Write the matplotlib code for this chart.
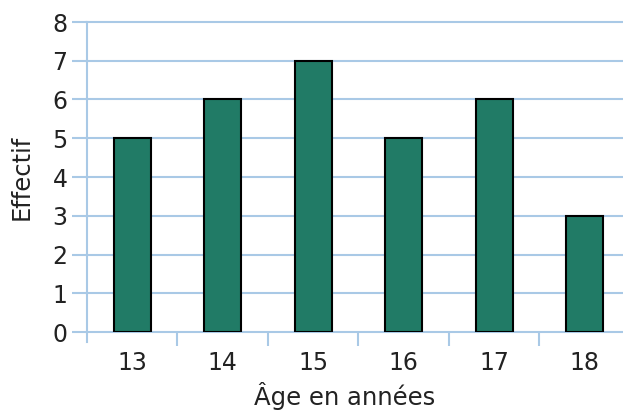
import matplotlib
matplotlib.use("Agg")
import matplotlib.pyplot as plt
from matplotlib.lines import Line2D
import numpy as np

ages = ["13", "14", "15", "16", "17", "18"]
effectifs = [5, 6, 7, 5, 6, 3]
yticks = [0, 1, 2, 3, 4, 5, 6, 7, 8]

W, H = 623, 411
fig = plt.figure(figsize=(W/100, H/100), dpi=100)
ax = fig.add_axes([87/W, 1-332/H, 1-87/W, 310/H])

grid_c = "#a9c9e6"
bar_c = "#217b66"
tc = "#222222"
x = np.arange(len(ages))

for v in yticks:
    ax.axhline(v, color=grid_c, lw=1.5, zorder=0, clip_on=False)
ax.bar(x, effectifs, width=0.41, color=bar_c, edgecolor="black", lw=1.5, zorder=3)

ax.set_xlim(-0.5, (623-132)/90.5)
ax.set_ylim(0, 8)
for s in ax.spines.values():
    s.set_visible(False)
ax.add_line(Line2D([0, 0], [-10/310, 1], transform=ax.transAxes, color=grid_c, lw=1.5, clip_on=False))

ax.set_yticks(yticks)
ax.tick_params(axis="y", length=11, width=1.5, color=grid_c, labelsize=17, pad=3, labelcolor=tc)
ax.set_xticks(np.arange(len(ages)-1) + 0.5)
ax.set_xticklabels([])
ax.tick_params(axis="x", which="major", length=10, width=1.5, color=grid_c)
ax.set_xticks(x, minor=True)
ax.set_xticklabels(ages, minor=True)
ax.tick_params(axis="x", which="minor", length=0, labelsize=17, pad=14, labelcolor=tc)

ax.set_ylabel("Effectif", fontsize=17.5, color=tc)
ax.set_xlabel("Âge en années", fontsize=17.5, color=tc)
ax.xaxis.set_label_coords((345-87)/(623-87), -(382-332)/310)
ax.yaxis.set_label_coords(-(87-34)/(623-87), 0.5)

fig.savefig("out.png", dpi=100)
